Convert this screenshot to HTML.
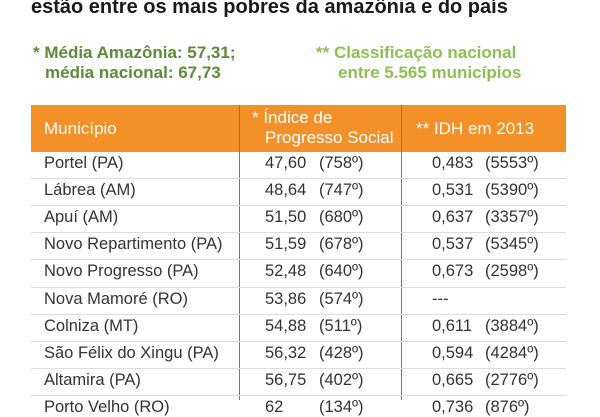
<!DOCTYPE html>
<html><head><meta charset="utf-8"><style>
body{margin:0;width:600px;height:400px;overflow:hidden;background:#fff;font-family:"Liberation Sans","DejaVu Sans",sans-serif;position:relative}
.a{position:absolute;white-space:nowrap}
.t{left:31px;top:-4px;font-size:20px;font-weight:bold;color:#1a1a1a}
.n1{color:#5b8c3a;font-weight:bold;font-size:17px}
.n2{color:#8cc152;font-weight:bold;font-size:17px}
.hd{position:absolute;left:31px;top:105px;width:535px;height:47px;background:#f39128}
.h{color:#fff;font-size:17px;line-height:21px}
.vl{position:absolute;width:1px;background:#777;top:105px;height:295px}
.rl{position:absolute;left:31px;width:535px;height:1px;background:#ddd}
.r{font-size:16.5px;color:#333}
</style></head><body>
<div class="a t">estão entre os mais pobres da amazônia e do país</div>
<div class="a n1" style="left:33px;top:43px">* Média Amazônia: 57,31;</div>
<div class="a n1" style="left:45px;top:63px">média nacional: 67,73</div>
<div class="a n2" style="left:316px;top:43px">** Classificação nacional</div>
<div class="a n2" style="left:338px;top:63px">entre 5.565 municípios</div>
<div class="hd"></div>
<div class="a h" style="left:44px;top:118px">Município</div>
<div class="a h" style="left:252px;top:107px">* Índice de</div>
<div class="a h" style="left:265px;top:127px">Progresso Social</div>
<div class="a h" style="left:416px;top:118px">** IDH em 2013</div>
<div class="vl" style="left:239px"></div>
<div class="vl" style="left:401px"></div>
<div id="rows"></div>
<script>
var d=[["Portel (PA)","47,60","(758º)","0,483","(5553º)"],["Lábrea (AM)","48,64","(747º)","0,531","(5390º)"],["Apuí (AM)","51,50","(680º)","0,637","(3357º)"],["Novo Repartimento (PA)","51,59","(678º)","0,537","(5345º)"],["Novo Progresso (PA)","52,48","(640º)","0,673","(2598º)"],["Nova Mamoré (RO)","53,86","(574º)","---",""],["Colniza (MT)","54,88","(511º)","0,611","(3884º)"],["São Félix do Xingu (PA)","56,32","(428º)","0,594","(4284º)"],["Altamira (PA)","56,75","(402º)","0,665","(2776º)"],["Porto Velho (RO)","62","(134º)","0,736","(876º)"]];
var h="";for(var i=0;i<d.length;i++){var y=151+i*27.1;var r=d[i];
if(i>0)h+='<div class="rl" style="top:'+Math.round(y)+'px"></div>';
var ty=Math.round(y+3);var xs=[44,265,319,432,485];
for(var j=0;j<5;j++)h+='<div class="a r" style="left:'+xs[j]+'px;top:'+ty+'px">'+r[j]+'</div>';}
document.getElementById("rows").innerHTML=h;
</script>
</body></html>
